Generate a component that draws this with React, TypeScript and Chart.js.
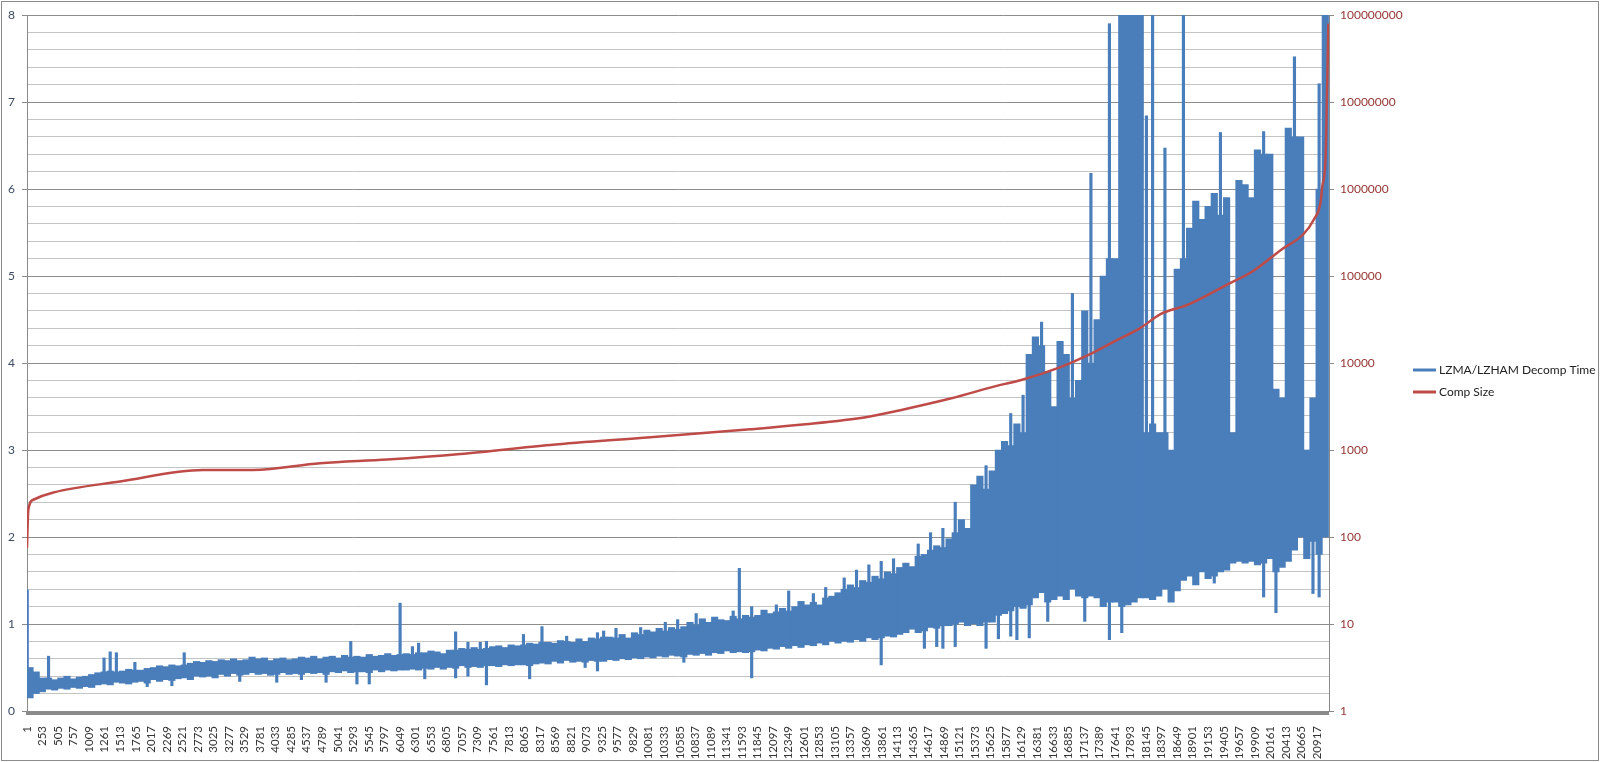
import React, { useEffect, useRef } from 'react'
import { Chart, registerables } from 'chart.js'

Chart.register(...registerables)

// category labels shown on the x axis (every 252nd file)
const xTickLabels = [
  1, 253, 505, 757, 1009, 1261, 1513, 1765, 2017, 2269, 2521, 2773, 3025, 3277, 3529, 3781,
  4033, 4285, 4537, 4789, 5041, 5293, 5545, 5797, 6049, 6301, 6553, 6805, 7057, 7309, 7561,
  7813, 8065, 8317, 8569, 8821, 9073, 9325, 9577, 9829, 10081, 10333, 10585, 10837, 11089,
  11341, 11593, 11845, 12097, 12349, 12601, 12853, 13105, 13357, 13609, 13861, 14113, 14365,
  14617, 14869, 15121, 15373, 15625, 15877, 16129, 16381, 16633, 16885, 17137, 17389, 17641,
  17893, 18145, 18397, 18649, 18901, 19153, 19405, 19657, 19909, 20161, 20413, 20665, 20917,
]
const lastIndex = 21110

// right axis (log) labels
const sizeTicks = [1, 10, 100, 1000, 10000, 100000, 1000000, 10000000, 100000000]

// Comp Size curve
const sizeIdx = [
  1, 22, 103, 428, 1509, 2856, 3667, 4754, 5840, 7025, 8484, 10106, 11728, 12535, 13625,
  14161, 14972, 15783, 16107, 16757, 17194, 17616, 18054, 18378, 18816, 19465, 19887, 20325,
  20698, 20860, 20974, 21000, 21055, 21075, 21100,
]
const sizeVal = [
  75, 204, 268, 324, 434, 589, 589, 705, 778, 900, 1143, 1400, 1730, 1950, 2400,
  2870, 3900, 5600, 6340, 8960, 12200, 17500, 25300, 36500, 46500, 80000, 115000, 198000,
  304000, 440000, 710000, 1050000, 2300000, 10000000, 80000000,
]

// LZMA/LZHAM decomp time: dense core of each block of 100 files (top / bottom)
const blockSize = 100
const bandHi = [
  0.50, 0.45, 0.38, 0.38, 0.36, 0.38, 0.40, 0.37, 0.39, 0.40,
  0.42, 0.44, 0.45, 0.46, 0.45, 0.46, 0.48, 0.47, 0.47, 0.49,
  0.50, 0.52, 0.51, 0.53, 0.52, 0.53, 0.55, 0.57, 0.56, 0.58,
  0.57, 0.59, 0.58, 0.60, 0.58, 0.59, 0.62, 0.60, 0.61, 0.58,
  0.60, 0.61, 0.59, 0.60, 0.62, 0.61, 0.63, 0.60, 0.62, 0.63,
  0.61, 0.64, 0.62, 0.63, 0.62, 0.65, 0.63, 0.64, 0.66, 0.64,
  0.65, 0.66, 0.65, 0.67, 0.67, 0.69, 0.68, 0.66, 0.70, 0.70,
  0.72, 0.71, 0.73, 0.71, 0.72, 0.74, 0.75, 0.73, 0.76, 0.75,
  0.76, 0.78, 0.77, 0.79, 0.79, 0.78, 0.81, 0.80, 0.79, 0.83,
  0.80, 0.84, 0.83, 0.85, 0.85, 0.84, 0.88, 0.84, 0.90, 0.88,
  0.93, 0.91, 0.95, 0.92, 0.96, 0.94, 0.97, 1.02, 0.99, 1.06,
  1.02, 1.08, 1.05, 1.04, 1.09, 1.06, 1.10, 1.08, 1.10, 1.16,
  1.12, 1.14, 1.18, 1.15, 1.20, 1.26, 1.22, 1.25, 1.22, 1.30,
  1.32, 1.36, 1.40, 1.45, 1.42, 1.50, 1.48, 1.55, 1.52, 1.60,
  1.58, 1.65, 1.70, 1.66, 1.78, 1.80, 1.85, 1.90, 1.88, 1.98,
  2.05, 2.20, 2.10, 2.60, 2.70, 2.55, 2.76, 3.00, 3.10, 3.05,
  3.30, 3.20, 4.10, 4.30, 4.20, 3.90, 3.50, 4.25, 4.10, 3.60,
  3.80, 4.60, 4.00, 4.50, 5.00, 5.20, 5.20, 8.50, 8.50, 8.50,
  8.50, 3.20, 3.30, 3.20, 3.20, 3.00, 5.08, 5.20, 5.55, 5.86,
  5.65, 5.80, 5.95, 5.70, 5.90, 3.20, 6.10, 6.05, 5.90, 6.45,
  6.40, 6.40, 3.70, 3.60, 6.70, 6.60, 6.60, 3.00, 3.60, 6.00,
  8.50,
]
const bandLo = [
  0.15, 0.20, 0.22, 0.25, 0.24, 0.26, 0.25, 0.27, 0.26, 0.28,
  0.27, 0.30, 0.31, 0.30, 0.33, 0.32, 0.31, 0.33, 0.34, 0.32,
  0.36, 0.34, 0.36, 0.35, 0.37, 0.38, 0.36, 0.40, 0.39, 0.40,
  0.38, 0.42, 0.40, 0.43, 0.41, 0.42, 0.44, 0.42, 0.43, 0.41,
  0.42, 0.44, 0.42, 0.43, 0.42, 0.44, 0.43, 0.44, 0.42, 0.45,
  0.44, 0.46, 0.44, 0.45, 0.45, 0.44, 0.47, 0.45, 0.47, 0.46,
  0.47, 0.47, 0.48, 0.47, 0.49, 0.48, 0.50, 0.48, 0.50, 0.49,
  0.52, 0.50, 0.51, 0.50, 0.52, 0.52, 0.51, 0.53, 0.52, 0.53,
  0.53, 0.52, 0.54, 0.55, 0.54, 0.57, 0.55, 0.58, 0.56, 0.57,
  0.56, 0.58, 0.57, 0.57, 0.59, 0.58, 0.60, 0.59, 0.61, 0.60,
  0.62, 0.61, 0.63, 0.62, 0.64, 0.63, 0.62, 0.65, 0.64, 0.66,
  0.64, 0.67, 0.66, 0.69, 0.67, 0.68, 0.67, 0.68, 0.70, 0.69,
  0.72, 0.71, 0.74, 0.72, 0.75, 0.73, 0.76, 0.75, 0.78, 0.76,
  0.80, 0.78, 0.80, 0.79, 0.82, 0.80, 0.84, 0.82, 0.84, 0.86,
  0.85, 0.88, 0.90, 0.94, 0.90, 0.92, 0.96, 0.95, 0.98, 0.98,
  1.00, 1.02, 0.98, 1.00, 0.98, 1.02, 1.02, 1.10, 1.12, 1.15,
  1.20, 1.18, 1.22, 1.30, 1.36, 1.25, 1.28, 1.32, 1.28, 1.40,
  1.32, 1.30, 1.32, 1.30, 1.20, 1.25, 1.25, 1.20, 1.22, 1.25,
  1.30, 1.30, 1.28, 1.32, 1.40, 1.25, 1.38, 1.50, 1.55, 1.45,
  1.60, 1.52, 1.55, 1.60, 1.62, 1.70, 1.72, 1.70, 1.72, 1.68,
  1.70, 1.75, 1.60, 1.65, 1.72, 1.85, 2.00, 1.75, 1.95, 1.80,
  2.00,
]

// single files sticking out above the core
const spikeIdx = [
  5, 350, 1250, 1350, 1450, 1750, 2550, 5250, 6050, 6250, 6350, 6950, 7150, 7350, 7450,
  8050, 8350, 8750, 9250, 9350, 9550, 9950, 10350, 10550, 10850, 11450, 11550, 11750, 12150,
  12350, 12750, 12950, 13250, 13450, 13650, 13850, 14050, 14450, 14650, 14850, 15050, 15550,
  15950, 16150, 16450, 16950, 17250, 17550, 18150, 18250, 18450, 18750, 19350, 20050, 20550,
  20950,
]
const spikeVal = [
  1.39, 0.63, 0.61, 0.68, 0.67, 0.56, 0.67, 0.80, 1.24, 0.74, 0.78, 0.91, 0.79, 0.79, 0.80,
  0.88, 0.97, 0.86, 0.90, 0.92, 0.95, 0.96, 1.02, 1.05, 1.12, 1.15, 1.64, 1.20, 1.22,
  1.38, 1.35, 1.42, 1.53, 1.62, 1.68, 1.72, 1.75, 1.92, 2.05, 2.10, 2.40, 2.82,
  3.42, 3.63, 4.47, 4.80, 6.18, 7.90, 6.84, 8.50, 6.47, 8.50, 6.65, 6.66, 7.52,
  7.21,
]

// single files dropping below the core
const dipIdx = [
  1950, 2350, 3450, 4050, 4450, 4850, 5350, 5550, 6450, 6950, 7150, 7450, 8150, 9050, 9250,
  10650, 11750, 13850, 14550, 14750, 14850, 15050, 15550, 15750, 15950, 16050, 16250, 16550,
  17150, 17550, 17750, 19250, 20050, 20250, 20850, 20950,
]
const dipVal = [
  0.28, 0.29, 0.34, 0.33, 0.36, 0.33, 0.31, 0.31, 0.37, 0.38, 0.40, 0.30, 0.37, 0.50, 0.46,
  0.56, 0.38, 0.53, 0.72, 0.74, 0.72, 0.74, 0.72, 0.83, 0.86, 0.82, 0.84, 1.03,
  1.03, 0.82, 0.90, 1.47, 1.31, 1.13, 1.35, 1.31,
]

const BLUE = '#4A7EBB'
const RED = '#BE4B48'
const AXIS = '#8a8a8a'
const FONT = 'Lato'

const isWhole = (v: number) => Math.abs(v - Math.round(v)) < 1e-6
const blockOf = (idx: number) => Math.min(bandHi.length - 1, Math.floor(idx / blockSize))

const legendItems = [
  { label: 'LZMA/LZHAM Decomp Time', color: BLUE },
  { label: 'Comp Size', color: RED },
]

const chromePlugin = {
  id: 'chrome',
  afterDraw(chart: any) {
    const { ctx, chartArea } = chart
    ctx.save()
    // dense category tick marks form a grey band under the plot
    ctx.fillStyle = AXIS
    ctx.fillRect(chartArea.left - 1, chartArea.bottom, chartArea.right - chartArea.left + 1, 4)
    // outer frame
    ctx.strokeStyle = AXIS
    ctx.lineWidth = 1
    ctx.strokeRect(1.5, 1.5, chart.width - 3, chart.height - 3)
    // legend on the right
    const mid = (chartArea.top + chartArea.bottom) / 2
    ctx.font = `12px ${FONT}`
    ctx.textBaseline = 'middle'
    ctx.fillStyle = '#222'
    legendItems.forEach((item, i) => {
      const y = mid + 7 + i * 22
      const x = chartArea.right + 84
      ctx.strokeStyle = item.color
      ctx.lineWidth = 3
      ctx.beginPath()
      ctx.moveTo(x, y)
      ctx.lineTo(x + 23, y)
      ctx.stroke()
      ctx.fillText(item.label, x + 26, y)
    })
    ctx.restore()
  },
}

const App = () => {
  const chartRef = useRef<HTMLCanvasElement>(null)

  useEffect(() => {
    if (!chartRef.current) return
    const ctx = chartRef.current.getContext('2d')
    if (!ctx) return

    const bandPoints = bandHi.map((hi, b) => ({ x: b * blockSize + blockSize / 2, y: [bandLo[b], hi] }))
    const spikePoints = spikeIdx.map((x, i) => ({ x, y: [bandHi[blockOf(x)], spikeVal[i]] }))
    const dipPoints = dipIdx.map((x, i) => ({ x, y: [dipVal[i], bandLo[blockOf(x)]] }))
    const sizePoints = sizeIdx.map((x, i) => ({ x, y: sizeVal[i] }))

    const barStyle = {
      type: 'bar' as const,
      yAxisID: 'y',
      backgroundColor: BLUE,
      borderWidth: 0,
      grouped: false,
    }

    const chart = new Chart(ctx, {
      type: 'bar',
      data: {
        datasets: [
          {
            type: 'line',
            label: 'Comp Size',
            data: sizePoints,
            yAxisID: 'y1',
            borderColor: RED,
            borderWidth: 2.5,
            pointRadius: 0,
            cubicInterpolationMode: 'monotone',
            order: 0,
          },
          { ...barStyle, label: 'LZMA/LZHAM Decomp Time', data: bandPoints, barThickness: 6.5, order: 1 },
          { ...barStyle, label: 'spikes', data: spikePoints, barThickness: 2.5, order: 2 },
          { ...barStyle, label: 'dips', data: dipPoints, barThickness: 2.5, order: 3 },
        ] as any,
      },
      options: {
        animation: false,
        responsive: true,
        maintainAspectRatio: false,
        layout: { padding: { top: 15, left: 0, right: 0, bottom: 0 } },
        plugins: {
          legend: { display: false },
          tooltip: { enabled: false },
        },
        scales: {
          x: {
            type: 'linear',
            min: 1,
            max: lastIndex,
            offset: false,
            afterBuildTicks: (scale: any) => {
              scale.ticks = xTickLabels.map((value) => ({ value }))
            },
            afterFit: (scale: any) => {
              scale.height = 51
            },
            grid: { display: false },
            border: { display: false },
            ticks: {
              autoSkip: false,
              minRotation: 90,
              maxRotation: 90,
              padding: 7,
              color: '#333',
              font: { family: FONT, size: 11.5 },
              callback: (v: any) => String(v),
            },
          },
          y: {
            type: 'linear',
            position: 'left',
            min: 0,
            max: 8,
            afterFit: (scale: any) => {
              scale.width = 27
            },
            ticks: {
              stepSize: 0.2,
              autoSkip: false,
              padding: 7,
              color: '#3b4a63',
              font: { family: FONT, size: 12 },
              callback: (v: any) => (isWhole(Number(v)) ? String(Math.round(Number(v))) : ''),
            },
            grid: {
              color: (c: any) => (isWhole(c.tick.value) ? '#8c8c8c' : '#c4c4c4'),
              tickColor: (c: any) => (isWhole(c.tick.value) ? AXIS : 'rgba(0,0,0,0)'),
              tickLength: 5,
            },
            border: { color: AXIS },
          },
          y1: {
            type: 'logarithmic',
            position: 'right',
            min: 1,
            max: 100000000,
            afterBuildTicks: (scale: any) => {
              scale.ticks = sizeTicks.map((value) => ({ value }))
            },
            afterFit: (scale: any) => {
              scale.width = 271
            },
            ticks: {
              autoSkip: false,
              padding: 6,
              color: '#953735',
              font: { family: FONT, size: 12 },
              callback: (v: any) => Number(v).toFixed(0),
            },
            grid: { drawOnChartArea: false, tickLength: 5, color: AXIS },
            border: { color: AXIS },
          },
        },
      },
      plugins: [chromePlugin],
    })

    return () => {
      chart.destroy()
    }
  }, [])

  return (
    <div style={{ position: 'absolute', left: 0, top: 0, width: 1600, height: 762, background: '#fff' }}>
      <canvas ref={chartRef} />
    </div>
  )
}

export default App
